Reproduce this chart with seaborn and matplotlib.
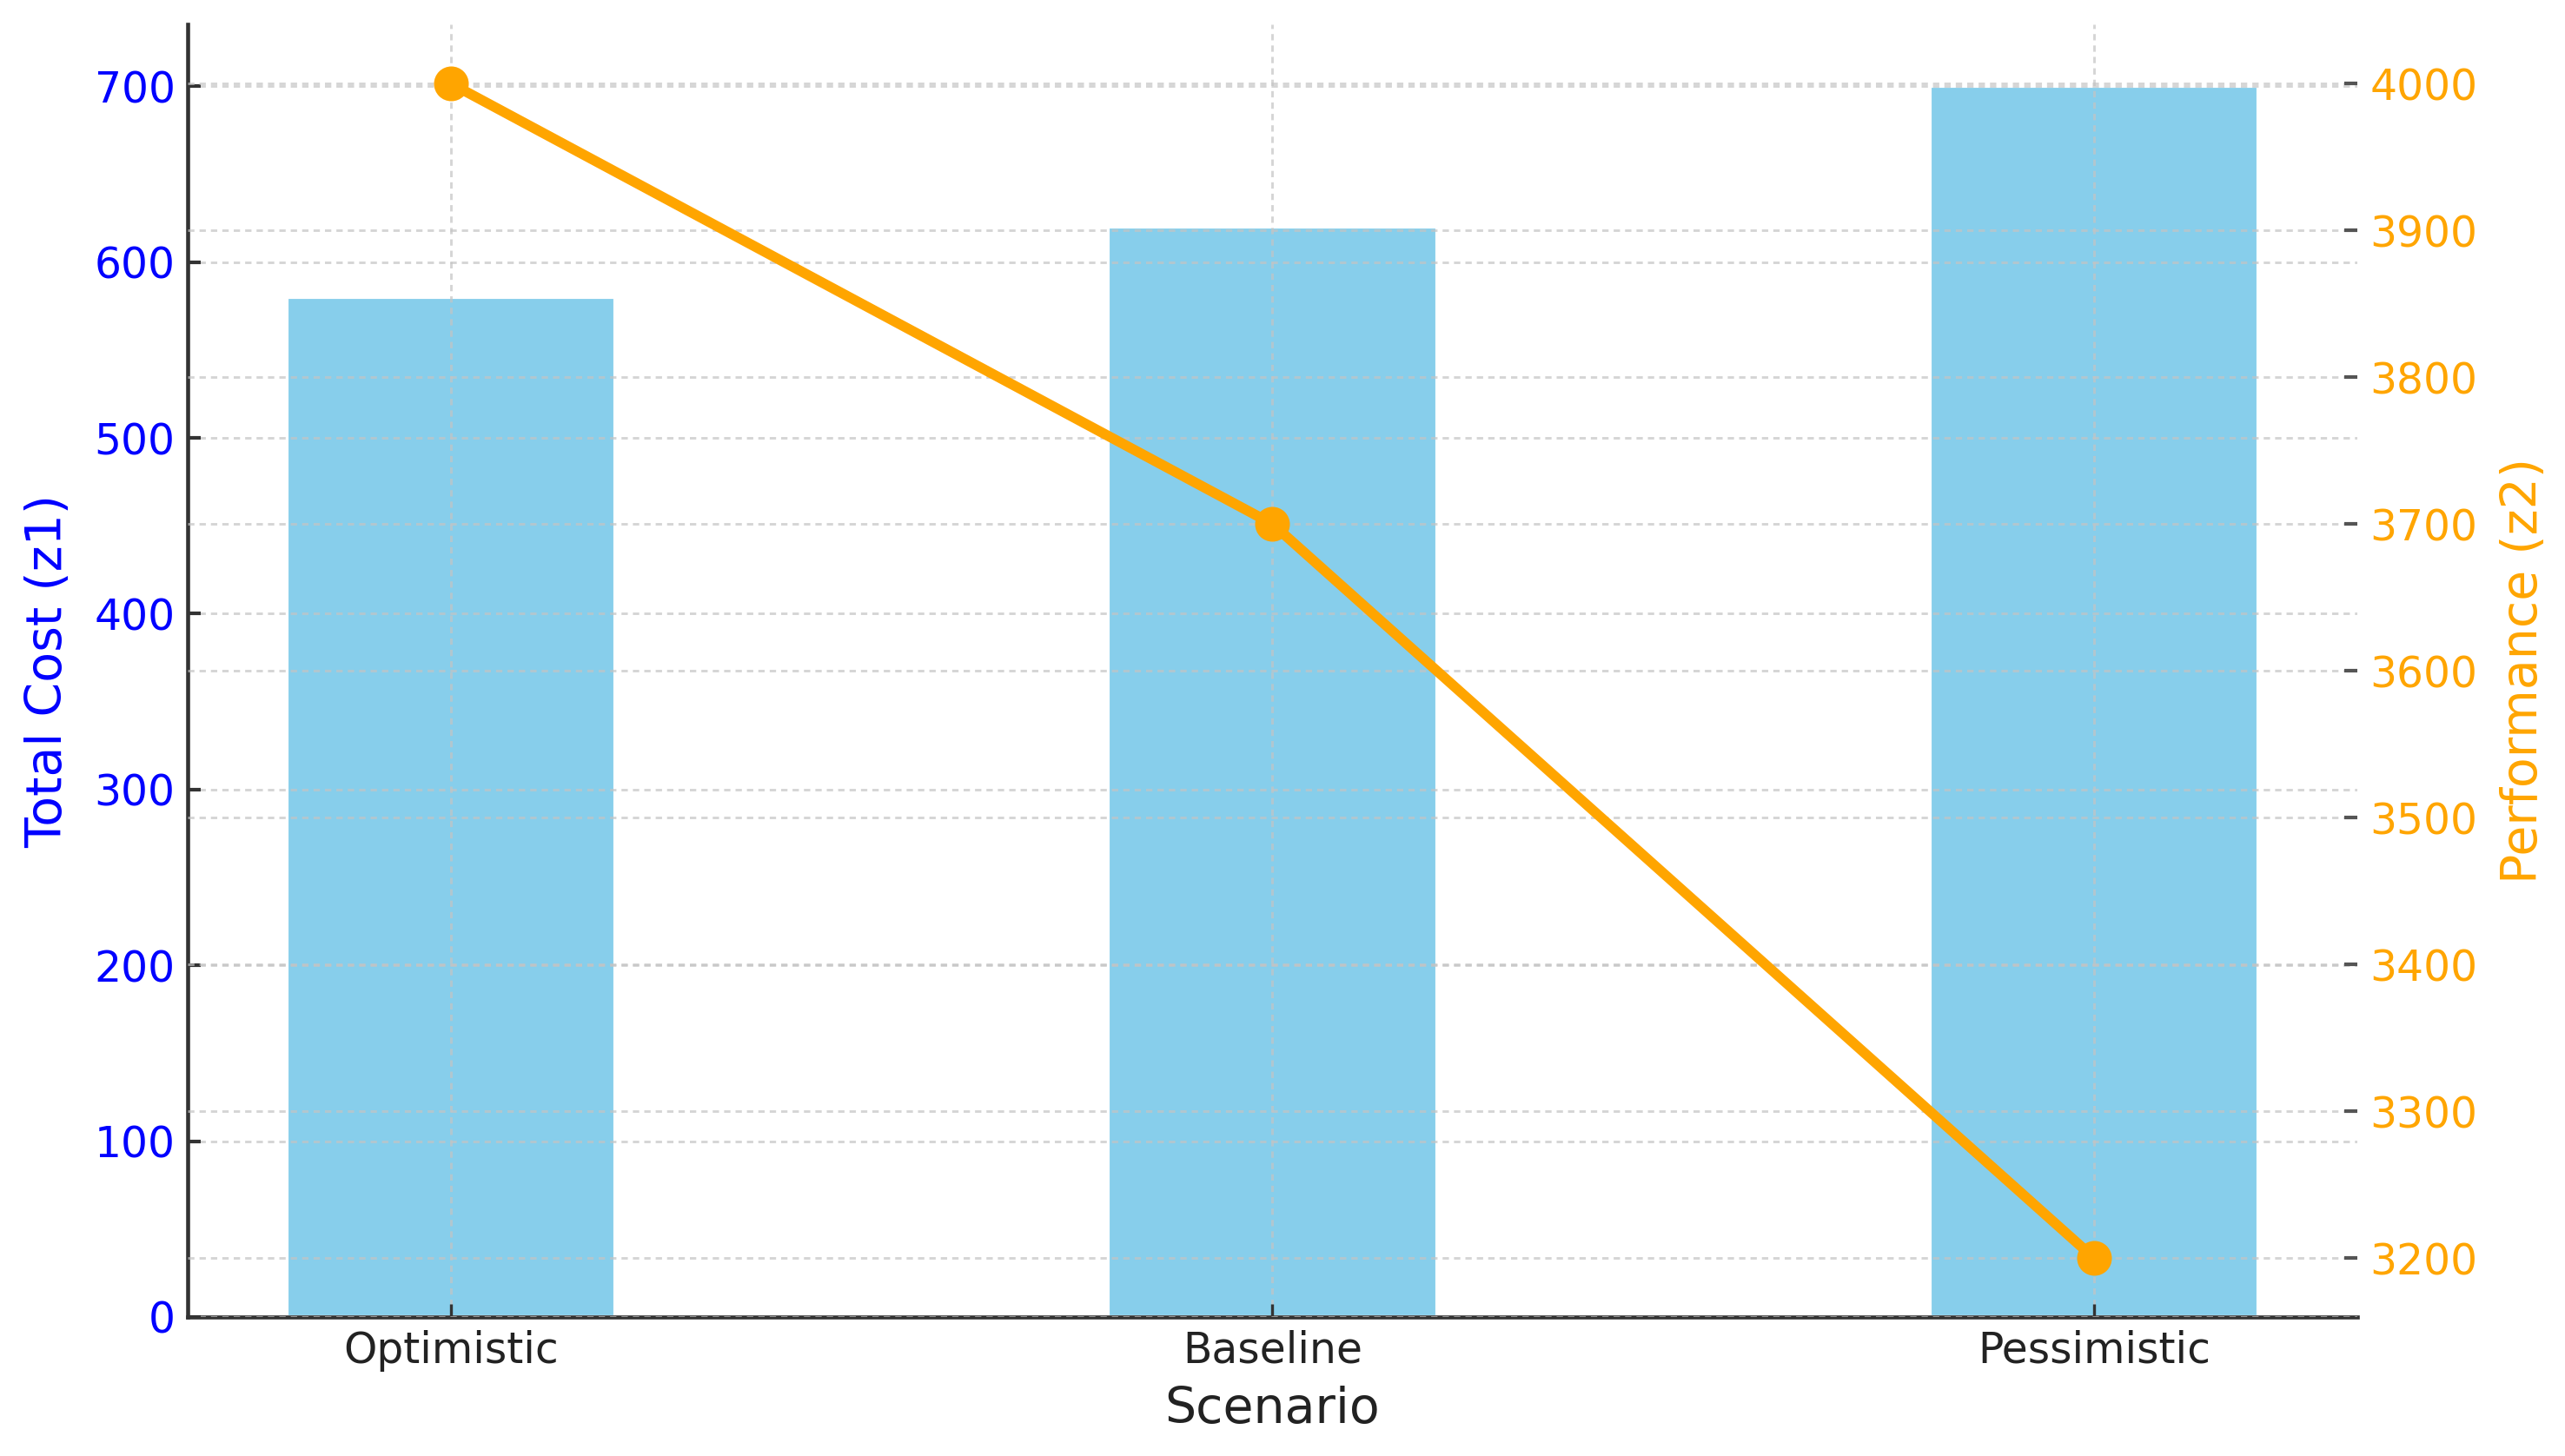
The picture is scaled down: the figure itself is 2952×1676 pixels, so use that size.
import numpy as np
import pandas as pd
import matplotlib
matplotlib.use("Agg")
import matplotlib.pyplot as plt
import seaborn as sns

# ---- data ----
scenarios = ["Optimistic", "Baseline", "Pessimistic"]
total_cost = [580, 620, 700]
performance = [4000, 3700, 3200]
cost_ticks = [0, 100, 200, 300, 400, 500, 600, 700]
perf_ticks = [3200, 3300, 3400, 3500, 3600, 3700, 3800, 3900, 4000]

sns.set_theme(style="white")
plt.rcParams["font.family"] = ["DejaVu Sans"]

df = pd.DataFrame({"Scenario": scenarios, "Cost": total_cost, "Perf": performance})

fig = plt.figure(figsize=(9.84, 5.5867), dpi=300)
ax1 = fig.add_axes([0.0732, 0.0955, 0.919 - 0.0732, 0.983 - 0.0955])

sns.barplot(data=df, x="Scenario", y="Cost", color="#87CEEB", width=0.4,
            saturation=1, ax=ax1, zorder=1)
ax1.set_xlim(-0.32, 2.32)
ax1.set_ylim(0, 735)
ax1.set_yticks(cost_ticks)

grid_kw = dict(color="#c4c4c4", linestyle=(0, (2.5, 2.0)), linewidth=0.7, alpha=0.7)
ax1.set_axisbelow(False)
ax1.grid(True, **grid_kw)

ax2 = ax1.twinx()
sns.pointplot(data=df, x="Scenario", y="Perf", color="orange", markers="o",
              markersize=7.5, linewidth=2.8, ax=ax2, zorder=5)
ax1.set_xlim(-0.32, 2.32)
ax2.set_ylim(3160, 4040)
ax2.set_yticks(perf_ticks)
ax2.grid(True, **grid_kw)

ax1.set_xlabel("Scenario", fontsize=13.7, color="#222222", labelpad=4)
ax1.set_ylabel("Total Cost (z1)", fontsize=13.7, color="blue", labelpad=6)
ax2.set_ylabel("Performance (z2)", fontsize=13.7, color="orange", labelpad=6)
ax2.set_xlabel("")

ax1.tick_params(axis="y", colors="#333333", labelcolor="blue", labelsize=11.7,
                direction="in", length=3.5, width=1.0, left=True)
ax1.tick_params(axis="x", colors="#333333", labelcolor="#222222", labelsize=11.7,
                direction="in", length=3.5, width=0.8, bottom=True)
ax2.tick_params(axis="y", colors="#555555", labelcolor="orange", labelsize=11.7,
                direction="in", length=3.5, width=1.0, right=True)

for ax in (ax1, ax2):
    ax.spines["top"].set_visible(False)
    ax.spines["right"].set_visible(False)
ax2.spines["left"].set_visible(False)
ax2.spines["bottom"].set_visible(False)
for s in ("left", "bottom"):
    ax1.spines[s].set_color("#333333")
    ax1.spines[s].set_linewidth(1.1)

fig.savefig("out.png", dpi=300, facecolor="white")
